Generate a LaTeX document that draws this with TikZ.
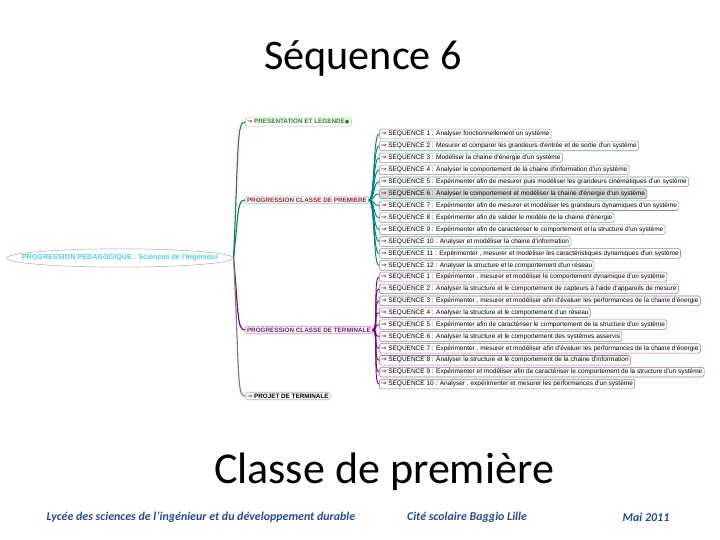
\documentclass[tikz,border=0pt]{standalone}
\usepackage{fontspec}
\setmainfont{Carlito}
\newfontfamily\mapfont{Liberation Sans}
\newfontfamily\symfont{DejaVu Sans}
\usetikzlibrary{shapes.geometric}
\definecolor{rootcyan}{RGB}{70,215,225}
\definecolor{presgreen}{RGB}{40,135,40}
\definecolor{premteal}{RGB}{0,128,128}
\definecolor{premred}{RGB}{165,30,40}
\definecolor{termpurple}{RGB}{128,0,128}
\definecolor{termtext}{RGB}{120,30,105}
\definecolor{projgray}{RGB}{128,128,128}
\definecolor{arrowred}{RGB}{190,40,40}
\definecolor{premborder}{RGB}{125,155,155}
\definecolor{termborder}{RGB}{160,110,160}
\definecolor{footblue}{RGB}{36,74,150}
\definecolor{highgray}{RGB}{215,215,215}
\tikzset{
  slidetitle/.style={font=\fontsize{36}{42}\selectfont,anchor=base},
  rootnode/.style={
    draw=gray!70,
    ellipse,
    minimum width=6.8cm,
    minimum height=0.55cm,
    inner sep=0pt,
    text=rootcyan,
    font=\mapfont\bfseries\fontsize{6.15}{7.5}\selectfont
  },
  branchbox/.style={
    draw=#1,
    rectangle,
    rounded corners=1.5pt,
    line width=0.45pt,
    inner xsep=1.5pt,
    inner ysep=1.3pt,
    anchor=west,
    fill=white,
    font=\mapfont\bfseries\fontsize{5.4}{6.5}\selectfont
  },
  seqbox/.style={
    draw=#1,
    rectangle,
    rounded corners=1.5pt,
    line width=0.45pt,
    inner xsep=1.5pt,
    inner ysep=0pt,
    minimum height=8.2pt,
    anchor=west,
    fill=white,
    font=\mapfont\fontsize{5.55}{6.5}\selectfont
  },
  link/.style={draw=#1,line width=1pt},
  fanlink/.style={draw=#1,line width=0.8pt},
  footer/.style={font=\bfseries\itshape\fontsize{10.2}{12}\selectfont,text=footblue}
}
\newcommand{\seqarrow}{\textcolor{arrowred}{\symfont\bfseries →}}

\begin{document}
\begin{tikzpicture}[x=0.03cm,y=-0.03cm]
  \useasboundingbox (0,0) rectangle (720,540);

  % Slide titles
  \node[slidetitle] (title) at (363,70) {Séquence 6};
  \node[slidetitle,font=\fontsize{37.6}{44}\selectfont] (subtitle) at (384,483) {Classe de première};

  % Root of the map
  \node[rootnode] (root) at (120,258)
    {\makebox[0pt]{PROGRESSION PEDAGOGIQUE : Sciences de l'ingénieur}};

  % Main branches
  \node[branchbox=presgreen!45,text=presgreen] (pres) at (245,122)
    {\seqarrow\ PRESENTATION ET LEGENDE\textcolor{presgreen}{\symfont\fontsize{4.5}{5}\selectfont ●}};
  \node[branchbox=premteal!45,text=premred] (prem) at (245,200)
    {PROGRESSION CLASSE DE PREMIERE};
  \node[branchbox=termpurple!45,text=termtext] (term) at (245,330)
    {PROGRESSION CLASSE DE TERMINALE};
  \node[branchbox=projgray!60,text=black] (proj) at (245,396)
    {\seqarrow\ PROJET DE TERMINALE};

  \draw[link=presgreen] (root.east) .. controls +(5,-115) and +(-8,0) .. (pres.west);
  \draw[link=premteal] (root.east) .. controls +(5,-45) and +(-8,0) .. (prem.west);
  \draw[link=termpurple] (root.east) .. controls +(5,55) and +(-8,0) .. (term.west);
  \draw[link=projgray] (root.east) .. controls +(6,120) and +(-8,0) .. (proj.west);

  % Sequences of premiere
  \foreach \txt [count=\i] in {
    {SEQUENCE 1 : Analyser fonctionnellement un système},
    {SEQUENCE 2 : Mesurer et comparer les grandeurs d'entrée et de sortie d'un système},
    {SEQUENCE 3 : Modéliser la chaine d'énergie d'un système},
    {SEQUENCE 4 : Analyser le comportement de la chaine d'information d'un système},
    {SEQUENCE 5 : Expérimenter afin de mesurer puis modéliser les grandeurs cinématiques d'un système},
    {SEQUENCE 6 : Analyser le comportement et modéliser la chaine d'énergie d'un système},
    {SEQUENCE 7 : Expérimenter afin de mesurer et modéliser les grandeurs dynamiques d'un système},
    {SEQUENCE 8 : Expérimenter afin de valider le modèle de la chaine d'énergie},
    {SEQUENCE 9 : Expérimenter afin de caractériser le comportement et la structure d'un système},
    {SEQUENCE 10 : Analyser et modéliser la chaine d'information},
    {SEQUENCE 11 : Expérimenter , mesurer et modéliser les caractéristiques dynamiques d'un système},
    {SEQUENCE 12 : Analyser la structure et le comportement d'un réseau}} {
    \node[seqbox=premborder] (p\i) at (379,{134+(\i-1)*11.95}) {\seqarrow\ \txt};
    \draw[fanlink=premteal] (prem.east) .. controls +(6,0) and +(-6,0) .. (p\i.west);
  }
  % current sequence is highlighted
  \node[seqbox=premborder,fill=highgray] (pcur) at (p6.west)
    {\seqarrow\ SEQUENCE 6 : Analyser le comportement et modéliser la chaine d'énergie d'un système};

  % Sequences of terminale
  \foreach \txt [count=\i] in {
    {SEQUENCE 1 : Expérimenter , mesurer et modéliser le comportement dynamique d'un système},
    {SEQUENCE 2 : Analyser la structure et le comportement de capteurs à l'aide d'appareils de mesure},
    {SEQUENCE 3 : Expérimenter , mesurer et modéliser afin d'évaluer les performances de la chaine d'énergie},
    {SEQUENCE 4 : Analyser la structure et le comportement d'un réseau},
    {SEQUENCE 5 : Expérimenter afin de caractériser le comportement de la structure d'un système},
    {SEQUENCE 6 : Analyser la structure et le comportement des systèmes asservis},
    {SEQUENCE 7 : Expérimenter , mesurer et modéliser afin d'évaluer les performances de la chaine d'énergie},
    {SEQUENCE 8 : Analyser la structure et le comportement de la chaine d'information},
    {SEQUENCE 9 : Expérimenter et modéliser afin de caractériser le comportement de la structure d'un système},
    {SEQUENCE 10 : Analyser , expérimenter et mesurer les performances d'un système}} {
    \node[seqbox=termborder] (t\i) at (379,{277+(\i-1)*11.9}) {\seqarrow\ \txt};
    \draw[fanlink=termpurple] (term.east) .. controls +(6,0) and +(-6,0) .. (t\i.west);
  }

  % Footer
  \node[footer] (school) at (201,517) {Lycée des sciences de l'ingénieur et du développement durable};
  \node[footer] (city) at (467,517) {Cité scolaire Baggio Lille};
  \node[footer] (date) at (646,517) {Mai 2011};
\end{tikzpicture}
\end{document}
